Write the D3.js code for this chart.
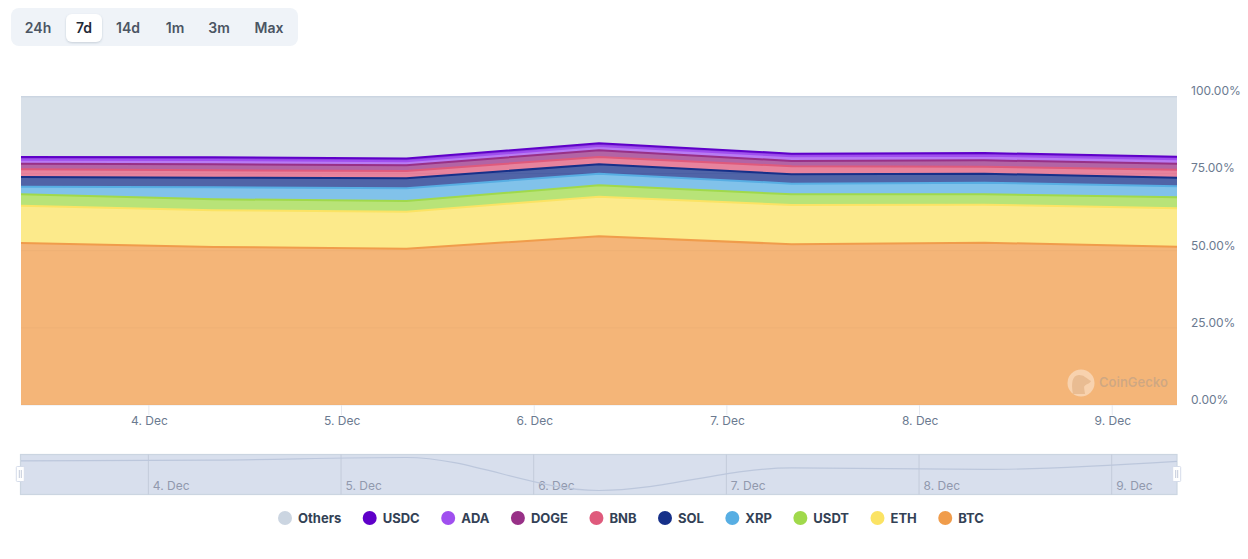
<!DOCTYPE html>
<html>
<head>
<meta charset="utf-8">
<script src="https://cdn.jsdelivr.net/npm/d3@7"></script>
<style>
  html, body { margin: 0; padding: 0; background: #fff; }
  svg { display: block; font-family: Inter, "Noto Sans", sans-serif; }
</style>
</head>
<body>
<svg id="chart" width="1248" height="559"></svg>
<script>
// daily samples, share of total market cap in %
const dates = ['2024-12-03T08:08Z', '2024-12-04T08:08Z', '2024-12-05T08:08Z', '2024-12-06T08:08Z', '2024-12-07T08:08Z', '2024-12-08T08:08Z', '2024-12-09T08:08Z']
const btc = [52.52, 51.22, 50.67, 54.69, 52.10, 52.61, 51.32]
const eth = [12.09, 11.90, 11.99, 12.84, 12.74, 12.32, 12.45]
const usdt = [3.70, 3.57, 3.47, 3.70, 3.47, 3.37, 3.57]
const xrp = [2.46, 3.89, 4.12, 3.76, 3.44, 3.76, 3.57]
const sol = [3.14, 3.11, 3.24, 3.05, 3.05, 2.92, 2.79]
const bnb = [2.50, 2.40, 2.37, 2.37, 2.59, 2.27, 2.59]
const doge = [1.82, 1.94, 1.85, 2.17, 1.72, 2.07, 1.94]
const ada = [1.30, 1.39, 1.33, 1.39, 1.49, 1.49, 1.39]
const usdc = [0.88, 0.88, 0.88, 0.88, 0.88, 0.88, 0.88]
const others = [19.59, 19.70, 20.09, 15.17, 18.54, 18.31, 19.51]

const legendNames = ['Others', 'USDC', 'ADA', 'DOGE', 'BNB', 'SOL', 'XRP', 'USDT', 'ETH', 'BTC']
const legendColors = ['#cbd5e1', '#5f00c9', '#a04fef', '#983087', '#df5a7c', '#163089', '#57aee3', '#a0d94b', '#fbe364', '#f09c4b']
const seriesValues = [others, usdc, ada, doge, bnb, sol, xrp, usdt, eth, btc]
const yTicks = [0, 25, 50, 75, 100]
const ranges = ['24h', '7d', '14d', '1m', '3m', 'Max']
const rangeCenters = [38, 84, 128, 175, 219, 269]

const svg = d3.select('#chart')
const plot = { left: 21, right: 1177, top: 96.5, bottom: 405 }
const nav = { top: 454.5, bottom: 494.5 }

const parsed = dates.map(d => new Date(d))
const x = d3.scaleUtc().domain(d3.extent(parsed)).range([plot.left, plot.right])
const y = d3.scaleLinear().domain([0, 100]).range([plot.bottom, plot.top])

// range selector
const defs = svg.append('defs')
const shadow = defs.append('filter').attr('id', 'btnShadow').attr('x', '-20%').attr('y', '-20%').attr('width', '140%').attr('height', '150%')
shadow.append('feDropShadow').attr('dx', 0).attr('dy', 1).attr('stdDeviation', 1.2).attr('flood-color', '#64748b').attr('flood-opacity', 0.3)
defs.append('clipPath').attr('id', 'plotClip').append('rect')
  .attr('x', plot.left).attr('y', plot.top - 0.5)
  .attr('width', plot.right - plot.left).attr('height', plot.bottom - plot.top + 0.5)

svg.append('rect').attr('x', 11).attr('y', 8).attr('width', 287).attr('height', 38).attr('rx', 8).attr('fill', '#eff3f8')
svg.append('rect').attr('x', 66).attr('y', 14).attr('width', 36).attr('height', 28).attr('rx', 6).attr('fill', '#fff').attr('filter', 'url(#btnShadow)')
svg.append('g').selectAll('text').data(ranges).enter().append('text')
  .attr('x', (d, i) => rangeCenters[i])
  .attr('y', 28)
  .attr('dy', '0.35em')
  .attr('text-anchor', 'middle')
  .attr('font-size', 14)
  .attr('font-weight', 600)
  .attr('fill', d => d === '7d' ? '#1f2937' : '#4b5563')
  .text(d => d)

// grid
svg.append('g').selectAll('line').data(yTicks).enter().append('line')
  .attr('x1', plot.left).attr('x2', plot.right)
  .attr('y1', d => y(d)).attr('y2', d => y(d))
  .attr('stroke', '#e6e9f0')

// stacked areas, bottom series is the last of the legend
const rows = parsed.map((d, i) => {
  const row = { date: d }
  legendNames.forEach((name, s) => { row[name] = seriesValues[s][i] })
  return row
})
const stacked = d3.stack().keys(legendNames.slice().reverse())(rows)
const color = d3.scaleOrdinal().domain(legendNames).range(legendColors)

const area = d3.area()
  .x(d => x(d.data.date))
  .y0(d => y(d[0]))
  .y1(d => y(d[1]))
const topLine = d3.line()
  .x(d => x(d.data.date))
  .y(d => y(d[1]))

const layers = svg.append('g').attr('clip-path', 'url(#plotClip)')
  .selectAll('g').data(stacked.slice().reverse()).enter().append('g')
layers.append('path').attr('d', area).attr('fill', d => color(d.key)).attr('fill-opacity', 0.75)
layers.append('path').attr('d', topLine).attr('fill', 'none').attr('stroke', d => color(d.key)).attr('stroke-width', 2)

// axes
const yAxis = d3.axisRight(y).tickValues(yTicks).tickSize(0).tickPadding(0).tickFormat(d => d3.format('.2f')(d) + '%')
const yG = svg.append('g').attr('transform', `translate(1191,-5.5)`).call(yAxis)
yG.select('.domain').remove()
yG.selectAll('text').attr('font-family', 'Inter').attr('font-size', 12).attr('fill', '#6b7a90')

const xAxis = d3.axisBottom(x).ticks(d3.utcDay.every(1)).tickSize(10).tickPadding(1).tickFormat(d3.utcFormat('%-d. %b'))
const xG = svg.append('g').attr('transform', `translate(0,${plot.bottom})`).call(xAxis)
xG.select('.domain').remove()
xG.selectAll('line').attr('stroke', '#e6e9f0')
xG.selectAll('text').attr('dx', 0.6).attr('font-family', 'Inter').attr('font-size', 12).attr('fill', '#6b7a90')

// watermark
const mark = svg.append('g')
mark.append('circle').attr('cx', 1081).attr('cy', 383).attr('r', 13.5).attr('fill', '#fff').attr('fill-opacity', 0.4)
mark.append('path').attr('d', 'M1073 394 C1071 384 1072 375 1079 375 C1084 375 1086 378 1091 381 C1090 384 1085 384 1084 387 L1085 394 Z').attr('fill', '#e0ae7e').attr('fill-opacity', 0.6)
mark.append('text').attr('x', 1099).attr('y', 382).attr('dy', '0.35em')
  .attr('font-size', 13).attr('font-weight', 600).attr('fill', '#8a8f96').attr('fill-opacity', 0.35).text('CoinGecko')

// navigator
svg.append('rect').attr('x', plot.left - 0.5).attr('y', nav.top).attr('width', plot.right - plot.left + 0.5).attr('height', nav.bottom - nav.top)
  .attr('fill', '#d8dfed').attr('stroke', '#cbd5e1').attr('stroke-width', 1.2)
const navY = d3.scaleLinear().domain(d3.extent(others)).range([490.5, 457.5])
const navTicks = x.ticks(d3.utcDay.every(1))
const navG = svg.append('g').selectAll('g').data(navTicks).enter().append('g')
navG.append('line').attr('x1', d => x(d)).attr('x2', d => x(d))
  .attr('y1', nav.top).attr('y2', nav.bottom).attr('stroke', '#c3cbda')
navG.append('text').attr('x', d => x(d) + 4.5).attr('y', 490)
  .attr('font-size', 12).attr('fill', '#9199ad').text(d3.utcFormat('%-d. %b'))
svg.append('path').datum(others)
  .attr('d', d3.line().x((d, i) => x(parsed[i])).y(d => navY(d)).curve(d3.curveMonotoneX))
  .attr('fill', 'none').attr('stroke', '#bcc7dc').attr('stroke-width', 1.2)

const handles = svg.append('g').selectAll('g').data([plot.left - 0.7, plot.right - 0.3]).enter().append('g')
  .attr('transform', d => `translate(${d},474)`)
handles.append('rect').attr('x', -4).attr('y', -7.5).attr('width', 8).attr('height', 15).attr('rx', 1)
  .attr('fill', '#fff').attr('stroke', '#d5dcea')
handles.selectAll('line').data([-1, 1]).enter().append('line')
  .attr('x1', d => d).attr('x2', d => d).attr('y1', -4).attr('y2', 4).attr('stroke', '#c3cbda')

// legend, measured then centred
const legend = svg.append('g')
const items = legend.selectAll('g').data(legendNames).enter().append('g')
items.append('circle').attr('cx', 7).attr('cy', 518).attr('r', 7).attr('fill', d => color(d))
items.append('text').attr('x', 20).attr('y', 518).attr('dy', '0.35em')
  .attr('font-size', 13).attr('font-weight', 700).attr('fill', '#334155').text(d => d)
const legendGap = 21.45
let cursor = 0
items.each(function () {
  d3.select(this).attr('transform', `translate(${cursor},0)`)
  cursor += 13 + 7 + d3.select(this).select('text').node().getComputedTextLength() + legendGap
})
legend.attr('transform', `translate(${631 - (cursor - legendGap) / 2},0)`)
</script>
</body>
</html>
